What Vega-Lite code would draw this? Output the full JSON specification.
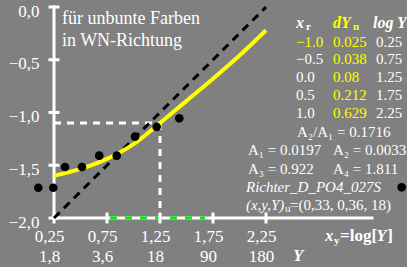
{
  "$schema": "https://vega.github.io/schema/vega-lite/v6.json",
  "width": 318,
  "height": 211,
  "autosize": "none",
  "padding": {"left": 54, "top": 7, "right": 35, "bottom": 49},
  "background": "#808080",
  "config": {"view": {"stroke": null}, "font": "Liberation Serif", "text": {"font": "Liberation Serif"}, "axis": {"labelFont": "Liberation Serif"}},
  "datasets": {
    "axes": [
      {"x": 0.25, "y": -2, "x2": 3.25, "y2": -2},
      {"x": 0.25, "y": -2, "x2": 0.25, "y2": 0}
    ],
    "xticks": [{"x": 0.25, "y": -2}, {"x": 0.75, "y": -2}, {"x": 1.25, "y": -2}, {"x": 1.75, "y": -2}, {"x": 2.25, "y": -2}],
    "yticks": [{"x": 0.25, "y": -2}, {"x": 0.25, "y": -1.5}, {"x": 0.25, "y": -1}, {"x": 0.25, "y": -0.5}, {"x": 0.25, "y": 0}],
    "green": [{"x": 0.778, "y": -2, "x2": 1.675, "y2": -2}],
    "whitedash": [
      {"x": 0.25, "y": -1.1, "x2": 1.25, "y2": -1.1},
      {"x": 1.25, "y": -1.1, "x2": 1.25, "y2": -2}
    ],
    "diag": [{"x": 0.25, "y": -2}, {"x": 2.25, "y": 0}],
    "curve": [
      {"x": 0.25, "y": -1.6},
      {"x": 0.5, "y": -1.535},
      {"x": 0.75, "y": -1.44},
      {"x": 1.0, "y": -1.3},
      {"x": 1.25, "y": -1.1},
      {"x": 1.5, "y": -0.89},
      {"x": 1.75, "y": -0.68},
      {"x": 2.0, "y": -0.46},
      {"x": 2.25, "y": -0.22}
    ],
    "dots": [
      {"x": 0.102, "y": -1.713},
      {"x": 0.243, "y": -1.713},
      {"x": 0.354, "y": -1.517},
      {"x": 0.514, "y": -1.517},
      {"x": 0.677, "y": -1.409},
      {"x": 0.842, "y": -1.409},
      {"x": 1.014, "y": -1.229},
      {"x": 1.219, "y": -1.137},
      {"x": 1.432, "y": -1.055},
      {"x": 3.53, "y": -1.709}
    ],
    "annot": [
      {"x": 0.325, "y": -0.114, "t": "für unbunte Farben"},
      {"x": 0.325, "y": -0.322, "t": "in WN-Richtung"}
    ],
    "white15": [
      {"x": 2.533, "y": -0.496, "t": "−0.5"},
      {"x": 2.533, "y": -0.666, "t": "0.0"},
      {"x": 2.533, "y": -0.834, "t": "0.5"},
      {"x": 2.533, "y": -1.008, "t": "1.0"},
      {"x": 3.288, "y": -0.329, "t": "0.25"},
      {"x": 3.288, "y": -0.496, "t": "0.75"},
      {"x": 3.288, "y": -0.666, "t": "1.25"},
      {"x": 3.288, "y": -0.834, "t": "1.75"},
      {"x": 3.288, "y": -1.008, "t": "2.25"},
      {"x": 2.542, "y": -1.185, "t": "A₂/A₁ = 0.1716"},
      {"x": 2.08, "y": -1.355, "t": "A₁ = 0.0197"},
      {"x": 2.882, "y": -1.355, "t": "A₂ = 0.0033"},
      {"x": 2.08, "y": -1.531, "t": "A₃ = 0.922"},
      {"x": 2.882, "y": -1.531, "t": "A₄ = 1.811"},
      {"x": 2.476, "y": -1.877, "t": "=(0,33, 0,36, 18)"}
    ],
    "yellow15": [
      {"x": 2.533, "y": -0.329, "t": "−1.0"},
      {"x": 2.882, "y": -0.329, "t": "0.025"},
      {"x": 2.882, "y": -0.496, "t": "0.038"},
      {"x": 2.882, "y": -0.666, "t": "0.08"},
      {"x": 2.882, "y": -0.834, "t": "0.212"},
      {"x": 2.882, "y": -1.008, "t": "0.629"}
    ],
    "headW": [
      {"x": 2.533, "y": -0.152, "t": "x"},
      {"x": 3.259, "y": -0.152, "t": "log Y"}
    ],
    "headY": [{"x": 2.882, "y": -0.152, "t": "dY"}],
    "subW": [
      {"x": 2.627, "y": -0.19, "t": "r"},
      {"x": 2.892, "y": -2.22, "t": "y"}
    ],
    "subY": [{"x": 3.071, "y": -0.19, "t": "n"}],
    "subU": [{"x": 2.429, "y": -1.915, "t": "u"}],
    "italic15": [
      {"x": 2.061, "y": -1.706, "t": "Richter_D_PO4_027S"},
      {"x": 2.061, "y": -1.877, "t": "(x,y,Y)"}
    ],
    "bold17": [
      {"x": 2.948, "y": -2.17, "t": "=log["},
      {"x": 3.395, "y": -2.17, "t": "]"}
    ],
    "boldit17": [
      {"x": 2.807, "y": -2.17, "t": "x"},
      {"x": 3.29, "y": -2.17, "t": "Y"},
      {"x": 2.505, "y": -2.36, "t": "Y"}
    ]
  },
  "encoding": {
    "x": {
      "field": "x", "type": "quantitative",
      "scale": {"domain": [0.25, 3.25], "nice": false, "zero": false},
      "axis": {
        "title": null, "domain": false, "ticks": false, "grid": false,
        "values": [0.25, 0.75, 1.25, 1.75, 2.25],
        "labelExpr": "datum.value == 0.25 ? ['0,25','1,8'] : datum.value == 0.75 ? ['0,75','3,6'] : datum.value == 1.25 ? ['1,25','18'] : datum.value == 1.75 ? ['1,75','90'] : ['2,25','180']",
        "labelFont": "Liberation Serif", "labelFontSize": 17, "labelColor": "white",
        "labelPadding": 10, "labelOffset": -5, "labelLineHeight": 20,
        "labelFlush": false, "labelOverlap": false, "labelBaseline": "top"
      }
    },
    "y": {
      "field": "y", "type": "quantitative",
      "scale": {"domain": [-2, 0], "nice": false, "zero": false},
      "axis": {
        "title": null, "domain": false, "ticks": false, "grid": false,
        "values": [-2, -1.5, -1, -0.5, 0],
        "labelExpr": "replace(format(datum.value, '.1f'), '.', ',')",
        "labelFont": "Liberation Serif", "labelFontSize": 17, "labelColor": "white",
        "labelPadding": 15, "labelOffset": 4, "labelBaseline": "middle",
        "labelFlush": false, "labelOverlap": false
      }
    }
  },
  "layer": [
    {"data": {"name": "axes"}, "mark": {"type": "rule", "color": "white", "strokeWidth": 3, "strokeCap": "square"}, "encoding": {"x2": {"field": "x2"}, "y2": {"field": "y2"}}},
    {"data": {"name": "green"}, "mark": {"type": "rule", "color": "#00ee00", "strokeWidth": 3, "strokeDash": [7, 8]}, "encoding": {"x2": {"field": "x2"}, "y2": {"field": "y2"}}},
    {"data": {"name": "xticks"}, "mark": {"type": "tick", "orient": "vertical", "color": "white", "size": 11, "thickness": 3, "opacity": 1}, "encoding": {}},
    {"data": {"name": "yticks"}, "mark": {"type": "tick", "orient": "horizontal", "color": "white", "size": 11, "thickness": 3, "opacity": 1}, "encoding": {}},
    {"data": {"name": "whitedash"}, "mark": {"type": "rule", "color": "white", "strokeWidth": 3, "strokeDash": [7, 6]}, "encoding": {"x2": {"field": "x2"}, "y2": {"field": "y2"}}},
    {"data": {"name": "diag"}, "mark": {"type": "line", "color": "black", "strokeWidth": 3, "strokeDash": [8, 6]}, "encoding": {}},
    {"data": {"name": "curve"}, "mark": {"type": "line", "color": "#ffff00", "strokeWidth": 4, "interpolate": "monotone"}, "encoding": {}},
    {"data": {"name": "dots"}, "mark": {"type": "circle", "color": "black", "size": 75, "opacity": 1}, "encoding": {}},
    {"data": {"name": "annot"}, "mark": {"type": "text", "align": "left", "baseline": "middle", "fontSize": 18, "color": "white"}, "encoding": {"text": {"field": "t"}}},
    {"data": {"name": "white15"}, "mark": {"type": "text", "align": "left", "baseline": "middle", "fontSize": 15, "color": "white"}, "encoding": {"text": {"field": "t"}}},
    {"data": {"name": "yellow15"}, "mark": {"type": "text", "align": "left", "baseline": "middle", "fontSize": 15, "color": "#ffff00"}, "encoding": {"text": {"field": "t"}}},
    {"data": {"name": "headW"}, "mark": {"type": "text", "align": "left", "baseline": "middle", "fontSize": 16, "fontWeight": "bold", "fontStyle": "italic", "color": "white"}, "encoding": {"text": {"field": "t"}}},
    {"data": {"name": "headY"}, "mark": {"type": "text", "align": "left", "baseline": "middle", "fontSize": 16, "fontWeight": "bold", "fontStyle": "italic", "color": "#ffff00"}, "encoding": {"text": {"field": "t"}}},
    {"data": {"name": "subW"}, "mark": {"type": "text", "align": "left", "baseline": "middle", "fontSize": 11, "fontWeight": "bold", "color": "white"}, "encoding": {"text": {"field": "t"}}},
    {"data": {"name": "subY"}, "mark": {"type": "text", "align": "left", "baseline": "middle", "fontSize": 11, "fontWeight": "bold", "color": "#ffff00"}, "encoding": {"text": {"field": "t"}}},
    {"data": {"name": "subU"}, "mark": {"type": "text", "align": "left", "baseline": "middle", "fontSize": 11, "color": "white"}, "encoding": {"text": {"field": "t"}}},
    {"data": {"name": "italic15"}, "mark": {"type": "text", "align": "left", "baseline": "middle", "fontSize": 15, "fontStyle": "italic", "color": "white"}, "encoding": {"text": {"field": "t"}}},
    {"data": {"name": "bold17"}, "mark": {"type": "text", "align": "left", "baseline": "middle", "fontSize": 17, "fontWeight": "bold", "color": "white"}, "encoding": {"text": {"field": "t"}}},
    {"data": {"name": "boldit17"}, "mark": {"type": "text", "align": "left", "baseline": "middle", "fontSize": 17, "fontWeight": "bold", "fontStyle": "italic", "color": "white"}, "encoding": {"text": {"field": "t"}}}
  ]
}
